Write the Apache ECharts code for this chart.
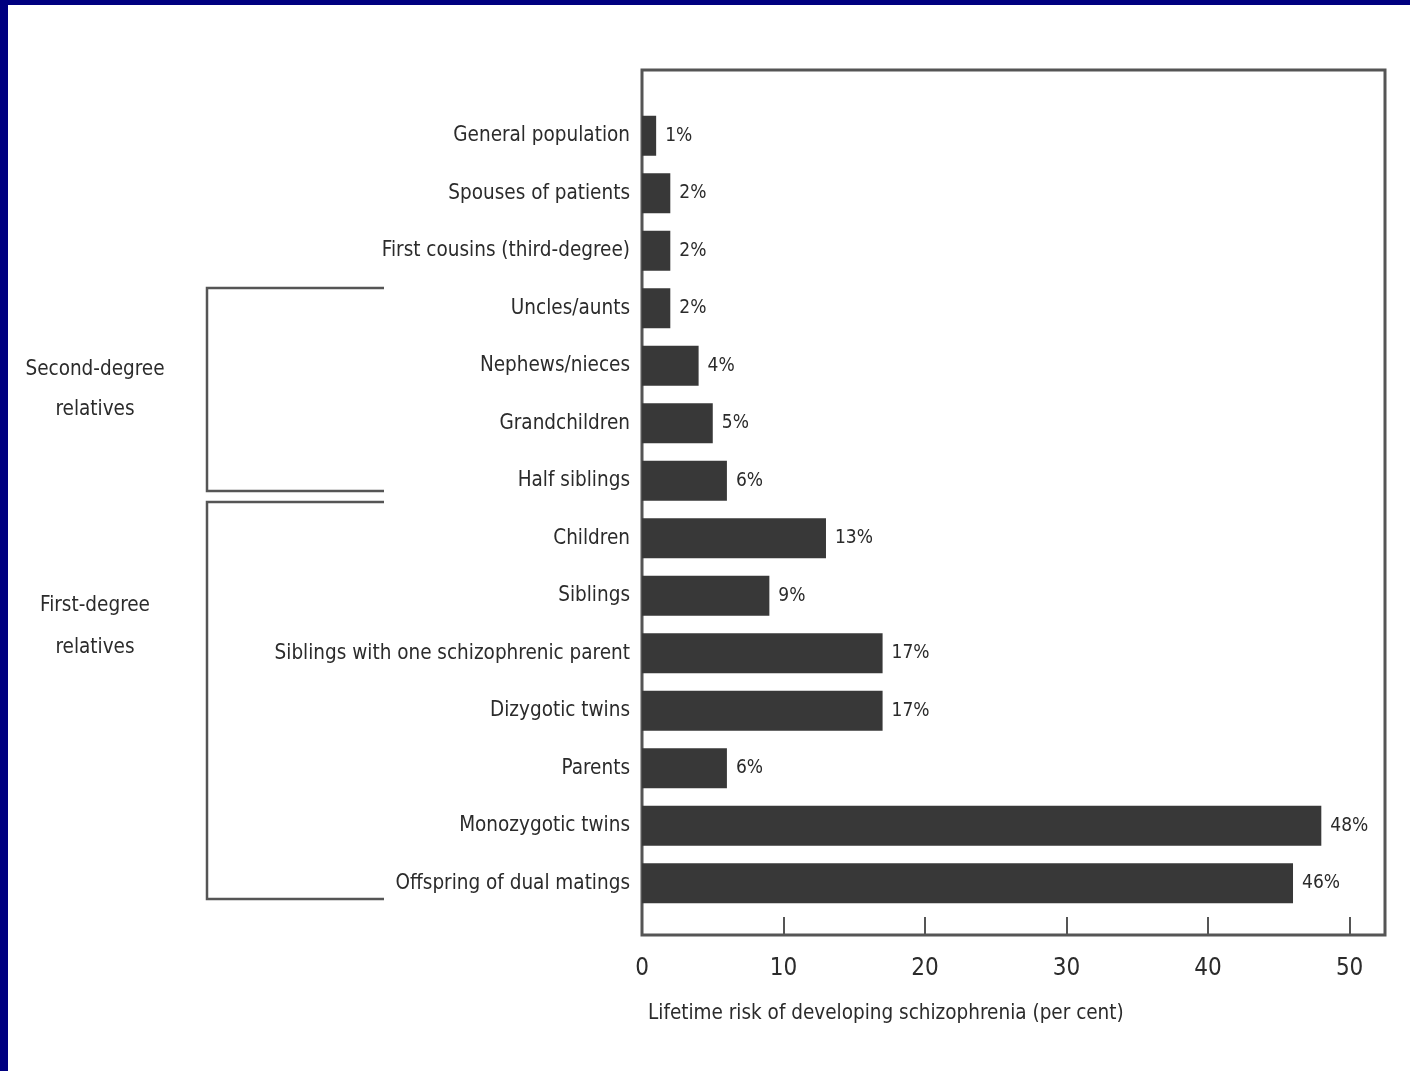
<!DOCTYPE html>
<html>
<head>
<meta charset="utf-8">
<script src="https://cdn.jsdelivr.net/npm/echarts@6/dist/echarts.min.js"></script>
<style>
  html, body { margin: 0; padding: 0; background: #fff; }
  #chart { position: absolute; left: 0; top: 0; width: 1410px; height: 1071px; }
  .edge { position: absolute; background: #000080; }
</style>
</head>
<body>
<div id="chart"></div>
<div class="edge" style="left:0;top:0;width:1410px;height:5px;"></div>
<div class="edge" style="left:0;top:0;width:8px;height:1071px;"></div>
<script>
// Relatives of a patient, top to bottom
const categories = [
  'General population',
  'Spouses of patients',
  'First cousins (third-degree)',
  'Uncles/aunts',
  'Nephews/nieces',
  'Grandchildren',
  'Half siblings',
  'Children',
  'Siblings',
  'Siblings with one schizophrenic parent',
  'Dizygotic twins',
  'Parents',
  'Monozygotic twins',
  'Offspring of dual matings'
];
// Lifetime risk, per cent
const riskValues = [1, 2, 2, 2, 4, 5, 6, 13, 9, 17, 17, 6, 48, 46];
const axisTitle = 'Lifetime risk of developing schizophrenia (per cent)';
const groupLabels = ['Second-degree\nrelatives', 'First-degree\nrelatives'];

const FONT = "'DejaVu Sans Condensed', 'Liberation Sans Narrow', sans-serif";
const INK = '#2b2b2b';
const LINE = '#555';
const X_MAX = 52.5;

const chart = echarts.init(document.getElementById('chart'), null, { renderer: 'canvas' });

chart.setOption({
  backgroundColor: '#fff',
  animation: false,
  grid: [
    // framed box with the risk axis
    { left: 642, top: 70, right: 25, bottom: 136, show: true,
      borderColor: LINE, borderWidth: 3, backgroundColor: 'transparent' },
    // bar rows
    { left: 642, top: 107, right: 25, bottom: 159 }
  ],
  xAxis: [
    {
      gridIndex: 0, type: 'value', min: 0, max: X_MAX, interval: 10,
      axisLine: { show: false },
      axisTick: { show: true, inside: true, length: 18, lineStyle: { color: LINE, width: 2 } },
      splitLine: { show: false },
      axisLabel: { showMaxLabel: false, margin: 22, color: INK, fontFamily: FONT, fontSize: 24,
        formatter: v => (v % 10 === 0 ? String(v) : '') },
      name: axisTitle, nameLocation: 'start', nameGap: 0,
      nameTextStyle: { color: INK, fontFamily: FONT, fontSize: 20.5, align: 'left',
        verticalAlign: 'top', padding: [68, 0, 0, 6] }
    },
    { gridIndex: 1, type: 'value', min: 0, max: X_MAX, show: false }
  ],
  yAxis: [
    { gridIndex: 0, type: 'value', show: false },
    {
      gridIndex: 1, type: 'category', data: categories, inverse: true,
      axisLine: { show: false }, axisTick: { show: false },
      axisLabel: { margin: 12, color: INK, fontFamily: FONT, fontSize: 20.5 }
    }
  ],
  series: [{
    type: 'bar',
    xAxisIndex: 1, yAxisIndex: 1,
    data: riskValues,
    barWidth: 40,
    itemStyle: { color: '#383838' },
    label: { show: true, position: 'right', distance: 9, formatter: '{c}%',
      color: INK, fontFamily: FONT, fontSize: 19 }
  }],
  graphic: [
    { type: 'polyline', shape: { points: [[384, 288], [207, 288], [207, 491], [384, 491]] },
      style: { stroke: LINE, lineWidth: 2.5, fill: null } },
    { type: 'polyline', shape: { points: [[384, 502], [207, 502], [207, 899], [384, 899]] },
      style: { stroke: LINE, lineWidth: 2.5, fill: null } },
    { type: 'text', x: 95, y: 390,
      style: { text: groupLabels[0], fill: INK, font: '20.5px ' + FONT, align: 'center',
        verticalAlign: 'middle', lineHeight: 40 } },
    { type: 'text', x: 95, y: 627,
      style: { text: groupLabels[1], fill: INK, font: '20.5px ' + FONT, align: 'center',
        verticalAlign: 'middle', lineHeight: 42 } }
  ]
});
</script>
</body>
</html>
